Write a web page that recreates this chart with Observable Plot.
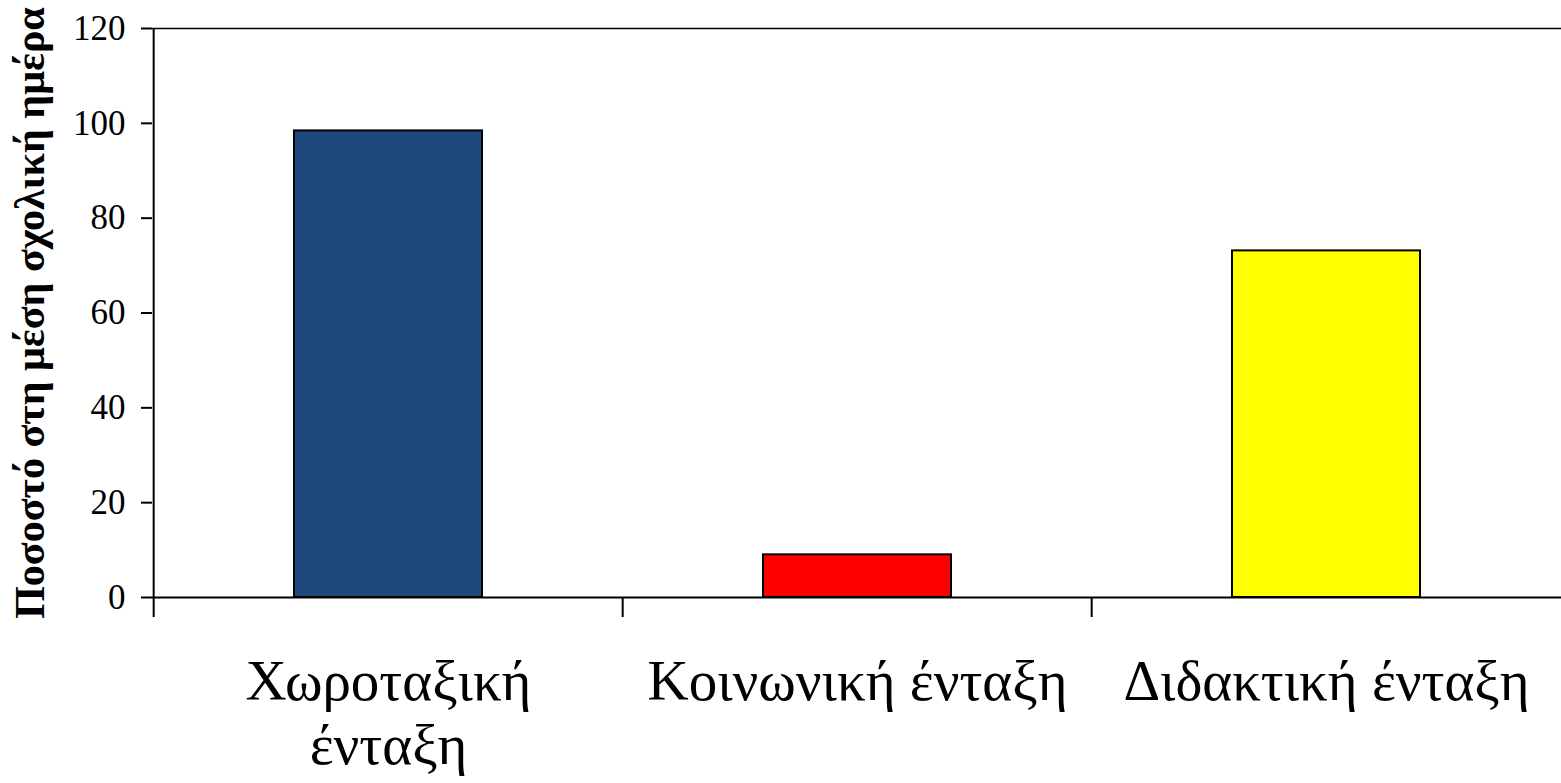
<!DOCTYPE html>
<html><head><meta charset="utf-8">
<script src="https://cdn.jsdelivr.net/npm/d3@7"></script>
<script src="https://cdn.jsdelivr.net/npm/@observablehq/plot@0.6"></script>
<style>html,body{margin:0;padding:0;background:#fff} svg{display:block}</style>
</head><body><div id="chart"></div>
<script>
const categories = ["Χωροταξική\nένταξη", "Κοινωνική ένταξη", "Διδακτική ένταξη"];
const values = [98.4, 9, 73.1];
const colors = ["#1f497d", "#ff0000", "#ffff00"];
const yTicks = [0, 20, 40, 60, 80, 100, 120];
const yTitle = "Ποσοστό στη μέση σχολική ημέρα";

const data = categories.map((c, i) => ({category: c, value: values[i], color: colors[i]}));
const W = 1561, H = 783, mL = 152, mR = 0, mT = 28, mB = 186;
const pi = 0.6, po = 0.3;
const step = (W - mL - mR) / (categories.length - pi + 2 * po);

const chart = Plot.plot({
  width: W, height: H, marginLeft: mL, marginRight: mR, marginTop: mT, marginBottom: mB,
  style: {fontFamily: "'Liberation Serif', 'Times New Roman', serif", background: "#fff", color: "#000"},
  x: {domain: categories, paddingInner: pi, paddingOuter: po, label: null},
  y: {domain: [0, 120], ticks: yTicks, label: null},
  color: {type: "identity"},
  marks: [
    Plot.barY(data, {x: "category", y: "value", fill: "color", stroke: "#000", strokeWidth: 2}),
    Plot.ruleY([120], {stroke: "#000", strokeWidth: 1.5}),
    Plot.ruleY([0], {stroke: "#000", strokeWidth: 2}),
    Plot.ruleX(categories.slice(0, 1), {x: d => d, dx: -step / 2, y1: 120, y2: 0, stroke: "#000", strokeWidth: 2}),
    Plot.ruleX(categories, {x: d => d, dx: -step / 2, y1: 0, y2: 0, insetBottom: -20, stroke: "#000", strokeWidth: 2}),
    Plot.axisY(yTicks, {tickSize: 11, tickPadding: 16, fontSize: 35, strokeWidth: 2, label: null}),
    Plot.axisX({tickSize: 0, tickPadding: 57, fontSize: 57, lineHeight: 1.12, label: null}),
    Plot.text([yTitle], {text: d => d, frameAnchor: "left", textAnchor: "middle", rotate: -90, dx: -109, lineAnchor: "bottom", fontSize: 42, fontWeight: "bold"})
  ]
});
document.getElementById("chart").appendChild(chart);
</script>
</body></html>
